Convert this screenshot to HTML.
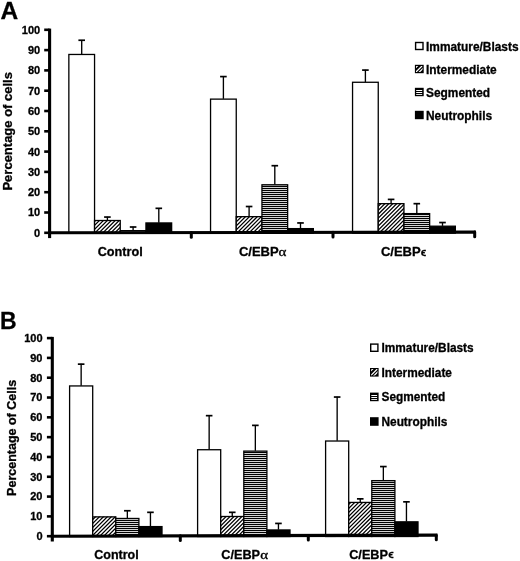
<!DOCTYPE html>
<html><head><meta charset="utf-8"><style>
html,body{margin:0;padding:0;background:#fff;}
svg{display:block;will-change:transform;}
text{font-family:"Liberation Sans", sans-serif;fill:#000;stroke:#000;stroke-width:0.3px;}
</style></head><body>
<svg width="520" height="561" viewBox="0 0 520 561">
<defs>
<pattern id="hatch" patternUnits="userSpaceOnUse" width="2.8" height="2.8" patternTransform="rotate(45)">
<rect width="2.8" height="2.8" fill="#fff"/><rect width="1.35" height="2.8" fill="#000"/></pattern>
<pattern id="hstripe" patternUnits="userSpaceOnUse" width="10" height="2">
<rect width="10" height="2" fill="#d2d2d2"/><rect width="10" height="1" fill="#000"/></pattern>
</defs>
<rect width="520" height="561" fill="#fff"/>
<line x1="81.70" y1="54.16" x2="81.70" y2="39.95" stroke="#000" stroke-width="1.35"/>
<line x1="78.40" y1="40.25" x2="85.00" y2="40.25" stroke="#000" stroke-width="1.7"/>
<rect x="68.85" y="54.46" width="25.70" height="178.64" fill="#fff" stroke="#000" stroke-width="1.3"/>
<line x1="107.40" y1="220.21" x2="107.40" y2="216.76" stroke="#000" stroke-width="1.35"/>
<line x1="104.10" y1="217.06" x2="110.70" y2="217.06" stroke="#000" stroke-width="1.7"/>
<clipPath id="cA0"><rect x="94.55" y="220.21" width="25.70" height="12.59"/></clipPath>
<rect x="94.55" y="220.21" width="25.70" height="12.59" fill="#fff"/>
<path clip-path="url(#cA0)" d="M70.30,237.80L92.89,215.21M74.25,237.80L96.84,215.21M78.20,237.80L100.79,215.21M82.15,237.80L104.74,215.21M86.10,237.80L108.69,215.21M90.05,237.80L112.64,215.21M94.00,237.80L116.59,215.21M97.95,237.80L120.54,215.21M101.90,237.80L124.49,215.21M105.85,237.80L128.44,215.21M109.80,237.80L132.39,215.21M113.75,237.80L136.34,215.21M117.70,237.80L140.29,215.21" stroke="#000" stroke-width="1.25" fill="none"/>
<rect x="94.55" y="220.51" width="25.70" height="12.59" fill="none" stroke="#000" stroke-width="1.3"/>
<line x1="133.10" y1="230.36" x2="133.10" y2="226.71" stroke="#000" stroke-width="1.35"/>
<line x1="129.80" y1="227.01" x2="136.40" y2="227.01" stroke="#000" stroke-width="1.7"/>
<rect x="120.25" y="230.66" width="25.70" height="2.44" fill="url(#hstripe)" stroke="#000" stroke-width="1.3"/>
<line x1="158.80" y1="222.65" x2="158.80" y2="208.03" stroke="#000" stroke-width="1.35"/>
<line x1="155.50" y1="208.33" x2="162.10" y2="208.33" stroke="#000" stroke-width="1.7"/>
<rect x="145.95" y="222.95" width="25.70" height="10.15" fill="#000" stroke="#000" stroke-width="1.3"/>
<line x1="223.40" y1="98.82" x2="223.40" y2="76.29" stroke="#000" stroke-width="1.35"/>
<line x1="220.10" y1="76.59" x2="226.70" y2="76.59" stroke="#000" stroke-width="1.7"/>
<rect x="210.55" y="99.12" width="25.70" height="133.98" fill="#fff" stroke="#000" stroke-width="1.3"/>
<line x1="249.10" y1="216.36" x2="249.10" y2="206.21" stroke="#000" stroke-width="1.35"/>
<line x1="245.80" y1="206.51" x2="252.40" y2="206.51" stroke="#000" stroke-width="1.7"/>
<clipPath id="cA1"><rect x="236.25" y="216.36" width="25.70" height="16.44"/></clipPath>
<rect x="236.25" y="216.36" width="25.70" height="16.44" fill="#fff"/>
<path clip-path="url(#cA1)" d="M208.55,237.80L234.99,211.36M212.50,237.80L238.94,211.36M216.45,237.80L242.89,211.36M220.40,237.80L246.84,211.36M224.35,237.80L250.79,211.36M228.30,237.80L254.74,211.36M232.25,237.80L258.69,211.36M236.20,237.80L262.64,211.36M240.15,237.80L266.59,211.36M244.10,237.80L270.54,211.36M248.05,237.80L274.49,211.36M252.00,237.80L278.44,211.36M255.95,237.80L282.39,211.36M259.90,237.80L286.34,211.36" stroke="#000" stroke-width="1.25" fill="none"/>
<rect x="236.25" y="216.66" width="25.70" height="16.44" fill="none" stroke="#000" stroke-width="1.3"/>
<line x1="274.80" y1="184.49" x2="274.80" y2="165.40" stroke="#000" stroke-width="1.35"/>
<line x1="271.50" y1="165.70" x2="278.10" y2="165.70" stroke="#000" stroke-width="1.7"/>
<rect x="261.95" y="184.79" width="25.70" height="48.31" fill="url(#hstripe)" stroke="#000" stroke-width="1.3"/>
<line x1="300.50" y1="228.33" x2="300.50" y2="222.65" stroke="#000" stroke-width="1.35"/>
<line x1="297.20" y1="222.95" x2="303.80" y2="222.95" stroke="#000" stroke-width="1.7"/>
<rect x="287.65" y="228.63" width="25.70" height="4.47" fill="#000" stroke="#000" stroke-width="1.3"/>
<line x1="365.40" y1="81.97" x2="365.40" y2="69.79" stroke="#000" stroke-width="1.35"/>
<line x1="362.10" y1="70.09" x2="368.70" y2="70.09" stroke="#000" stroke-width="1.7"/>
<rect x="352.55" y="82.27" width="25.70" height="150.83" fill="#fff" stroke="#000" stroke-width="1.3"/>
<line x1="391.10" y1="203.37" x2="391.10" y2="199.10" stroke="#000" stroke-width="1.35"/>
<line x1="387.80" y1="199.40" x2="394.40" y2="199.40" stroke="#000" stroke-width="1.7"/>
<clipPath id="cA2"><rect x="378.25" y="203.37" width="25.70" height="29.44"/></clipPath>
<rect x="378.25" y="203.37" width="25.70" height="29.44" fill="#fff"/>
<path clip-path="url(#cA2)" d="M338.90,237.80L378.34,198.37M342.85,237.80L382.28,198.37M346.80,237.80L386.24,198.37M350.75,237.80L390.19,198.37M354.70,237.80L394.13,198.37M358.65,237.80L398.09,198.37M362.60,237.80L402.03,198.37M366.55,237.80L405.99,198.37M370.50,237.80L409.94,198.37M374.45,237.80L413.88,198.37M378.40,237.80L417.84,198.37M382.35,237.80L421.78,198.37M386.30,237.80L425.74,198.37M390.25,237.80L429.69,198.37M394.20,237.80L433.63,198.37M398.15,237.80L437.59,198.37M402.10,237.80L441.53,198.37" stroke="#000" stroke-width="1.25" fill="none"/>
<rect x="378.25" y="203.67" width="25.70" height="29.44" fill="none" stroke="#000" stroke-width="1.3"/>
<line x1="416.80" y1="213.31" x2="416.80" y2="203.37" stroke="#000" stroke-width="1.35"/>
<line x1="413.50" y1="203.67" x2="420.10" y2="203.67" stroke="#000" stroke-width="1.7"/>
<rect x="403.95" y="213.61" width="25.70" height="19.49" fill="url(#hstripe)" stroke="#000" stroke-width="1.3"/>
<line x1="442.50" y1="225.90" x2="442.50" y2="222.24" stroke="#000" stroke-width="1.35"/>
<line x1="439.20" y1="222.54" x2="445.80" y2="222.54" stroke="#000" stroke-width="1.7"/>
<rect x="429.65" y="226.20" width="25.70" height="6.90" fill="#000" stroke="#000" stroke-width="1.3"/>
<line x1="49.60" y1="28.60" x2="49.60" y2="238.10" stroke="#000" stroke-width="3.1"/>
<line x1="48.10" y1="232.80" x2="475.90" y2="232.08" stroke="#000" stroke-width="3.1"/>
<line x1="191.30" y1="232.56" x2="191.30" y2="237.16" stroke="#000" stroke-width="3" stroke-linecap="round"/>
<line x1="333.00" y1="232.32" x2="333.00" y2="236.92" stroke="#000" stroke-width="3" stroke-linecap="round"/>
<line x1="474.70" y1="232.08" x2="474.70" y2="236.68" stroke="#000" stroke-width="3" stroke-linecap="round"/>
<line x1="44.20" y1="232.80" x2="49.60" y2="232.80" stroke="#000" stroke-width="2.6"/>
<text x="40.20" y="236.70" text-anchor="end" font-size="11" font-weight="bold">0</text>
<line x1="44.20" y1="212.50" x2="49.60" y2="212.50" stroke="#000" stroke-width="2.6"/>
<text x="40.20" y="216.40" text-anchor="end" font-size="11" font-weight="bold">10</text>
<line x1="44.20" y1="192.20" x2="49.60" y2="192.20" stroke="#000" stroke-width="2.6"/>
<text x="40.20" y="196.10" text-anchor="end" font-size="11" font-weight="bold">20</text>
<line x1="44.20" y1="171.90" x2="49.60" y2="171.90" stroke="#000" stroke-width="2.6"/>
<text x="40.20" y="175.80" text-anchor="end" font-size="11" font-weight="bold">30</text>
<line x1="44.20" y1="151.60" x2="49.60" y2="151.60" stroke="#000" stroke-width="2.6"/>
<text x="40.20" y="155.50" text-anchor="end" font-size="11" font-weight="bold">40</text>
<line x1="44.20" y1="131.30" x2="49.60" y2="131.30" stroke="#000" stroke-width="2.6"/>
<text x="40.20" y="135.20" text-anchor="end" font-size="11" font-weight="bold">50</text>
<line x1="44.20" y1="111.00" x2="49.60" y2="111.00" stroke="#000" stroke-width="2.6"/>
<text x="40.20" y="114.90" text-anchor="end" font-size="11" font-weight="bold">60</text>
<line x1="44.20" y1="90.70" x2="49.60" y2="90.70" stroke="#000" stroke-width="2.6"/>
<text x="40.20" y="94.60" text-anchor="end" font-size="11" font-weight="bold">70</text>
<line x1="44.20" y1="70.40" x2="49.60" y2="70.40" stroke="#000" stroke-width="2.6"/>
<text x="40.20" y="74.30" text-anchor="end" font-size="11" font-weight="bold">80</text>
<line x1="44.20" y1="50.10" x2="49.60" y2="50.10" stroke="#000" stroke-width="2.6"/>
<text x="40.20" y="54.00" text-anchor="end" font-size="11" font-weight="bold">90</text>
<line x1="44.20" y1="29.80" x2="49.60" y2="29.80" stroke="#000" stroke-width="2.6"/>
<text x="40.20" y="33.70" text-anchor="end" font-size="11" font-weight="bold">100</text>
<text x="120.25" y="256.20" text-anchor="middle" font-size="12.7" font-weight="bold">Control</text>
<text x="238.90" y="256.20" font-size="13.0" font-weight="bold">C/EBP</text>
<text transform="translate(278.50,256.20) scale(1.2,1)" font-family="Liberation Serif" font-size="12.5" font-weight="normal" style="font-family:Liberation Serif">&#945;</text>
<text x="380.90" y="256.20" font-size="13.0" font-weight="bold">C/EBP</text>
<text transform="translate(420.80,256.00) scale(1.0,1)" font-family="Liberation Sans" font-size="11.4" font-weight="bold" style="font-family:Liberation Sans">&#1013;</text>
<text transform="translate(11.50,131.30) rotate(-90)" text-anchor="middle" font-size="13" font-weight="bold">Percentage of cells</text>
<text transform="translate(0.60,19.00) scale(1.0,1)" font-size="24.5" font-weight="bold">A</text>
<rect x="415.60" y="42.50" width="7.40" height="7.00" fill="#fff" stroke="#000" stroke-width="1.4"/>
<text x="426.00" y="50.50" font-size="11.9" font-weight="bold">Immature/Blasts</text>
<rect x="414.90" y="64.80" width="8.80" height="8.40" fill="#000"/>
<clipPath id="lgA"><rect x="416.00" y="65.90" width="6.60" height="6.20"/></clipPath>
<path clip-path="url(#lgA)" d="M406.60,76.80L420.60,62.80M411.20,76.80L425.20,62.80M414.60,76.80L428.60,62.80" stroke="#fff" stroke-width="1.25" fill="none"/>
<text x="426.00" y="73.50" font-size="11.9" font-weight="bold">Intermediate</text>
<rect x="414.90" y="87.80" width="8.80" height="8.40" fill="#000"/>
<line x1="416.20" y1="90.50" x2="422.20" y2="90.50" stroke="#fff" stroke-width="1.0"/>
<line x1="416.20" y1="92.50" x2="422.20" y2="92.50" stroke="#fff" stroke-width="1.0"/>
<line x1="416.20" y1="94.50" x2="422.20" y2="94.50" stroke="#ddd" stroke-width="1.0"/>
<text x="426.00" y="96.50" font-size="11.9" font-weight="bold">Segmented</text>
<rect x="414.90" y="110.80" width="8.80" height="8.40" fill="#000"/>
<text x="426.00" y="119.50" font-size="11.9" font-weight="bold">Neutrophils</text>
<line x1="81.15" y1="385.64" x2="81.15" y2="363.85" stroke="#000" stroke-width="1.35"/>
<line x1="77.85" y1="364.15" x2="84.45" y2="364.15" stroke="#000" stroke-width="1.7"/>
<rect x="69.60" y="385.94" width="23.10" height="150.56" fill="#fff" stroke="#000" stroke-width="1.3"/>
<clipPath id="cB0"><rect x="92.70" y="516.59" width="23.10" height="19.61"/></clipPath>
<rect x="92.70" y="516.59" width="23.10" height="19.61" fill="#fff"/>
<path clip-path="url(#cB0)" d="M63.15,541.20L92.76,511.59M67.10,541.20L96.71,511.59M71.05,541.20L100.66,511.59M75.00,541.20L104.61,511.59M78.95,541.20L108.56,511.59M82.90,541.20L112.51,511.59M86.85,541.20L116.46,511.59M90.80,541.20L120.41,511.59M94.75,541.20L124.36,511.59M98.70,541.20L128.31,511.59M102.65,541.20L132.26,511.59M106.60,541.20L136.21,511.59M110.55,541.20L140.16,511.59M114.50,541.20L144.11,511.59" stroke="#000" stroke-width="1.25" fill="none"/>
<rect x="92.70" y="516.89" width="23.10" height="19.61" fill="none" stroke="#000" stroke-width="1.3"/>
<line x1="127.35" y1="518.17" x2="127.35" y2="510.45" stroke="#000" stroke-width="1.35"/>
<line x1="124.05" y1="510.75" x2="130.65" y2="510.75" stroke="#000" stroke-width="1.7"/>
<rect x="115.80" y="518.47" width="23.10" height="18.03" fill="url(#hstripe)" stroke="#000" stroke-width="1.3"/>
<line x1="150.45" y1="526.30" x2="150.45" y2="512.03" stroke="#000" stroke-width="1.35"/>
<line x1="147.15" y1="512.33" x2="153.75" y2="512.33" stroke="#000" stroke-width="1.7"/>
<rect x="138.90" y="526.60" width="23.10" height="9.90" fill="#000" stroke="#000" stroke-width="1.3"/>
<line x1="209.15" y1="449.43" x2="209.15" y2="415.36" stroke="#000" stroke-width="1.35"/>
<line x1="205.85" y1="415.66" x2="212.45" y2="415.66" stroke="#000" stroke-width="1.7"/>
<rect x="197.60" y="449.73" width="23.10" height="86.77" fill="#fff" stroke="#000" stroke-width="1.3"/>
<line x1="232.25" y1="516.19" x2="232.25" y2="512.03" stroke="#000" stroke-width="1.35"/>
<line x1="228.95" y1="512.33" x2="235.55" y2="512.33" stroke="#000" stroke-width="1.7"/>
<clipPath id="cB1"><rect x="220.70" y="516.19" width="23.10" height="20.01"/></clipPath>
<rect x="220.70" y="516.19" width="23.10" height="20.01" fill="#fff"/>
<path clip-path="url(#cB1)" d="M189.55,541.20L219.56,511.19M193.50,541.20L223.51,511.19M197.45,541.20L227.46,511.19M201.40,541.20L231.41,511.19M205.35,541.20L235.36,511.19M209.30,541.20L239.31,511.19M213.25,541.20L243.26,511.19M217.20,541.20L247.21,511.19M221.15,541.20L251.16,511.19M225.10,541.20L255.11,511.19M229.05,541.20L259.06,511.19M233.00,541.20L263.01,511.19M236.95,541.20L266.96,511.19M240.90,541.20L270.91,511.19" stroke="#000" stroke-width="1.25" fill="none"/>
<rect x="220.70" y="516.49" width="23.10" height="20.01" fill="none" stroke="#000" stroke-width="1.3"/>
<line x1="255.35" y1="450.82" x2="255.35" y2="425.07" stroke="#000" stroke-width="1.35"/>
<line x1="252.05" y1="425.37" x2="258.65" y2="425.37" stroke="#000" stroke-width="1.7"/>
<rect x="243.80" y="451.12" width="23.10" height="85.38" fill="url(#hstripe)" stroke="#000" stroke-width="1.3"/>
<line x1="278.45" y1="529.66" x2="278.45" y2="523.13" stroke="#000" stroke-width="1.35"/>
<line x1="275.15" y1="523.43" x2="281.75" y2="523.43" stroke="#000" stroke-width="1.7"/>
<rect x="266.90" y="529.96" width="23.10" height="6.54" fill="#000" stroke="#000" stroke-width="1.3"/>
<line x1="337.15" y1="440.72" x2="337.15" y2="396.74" stroke="#000" stroke-width="1.35"/>
<line x1="333.85" y1="397.04" x2="340.45" y2="397.04" stroke="#000" stroke-width="1.7"/>
<rect x="325.60" y="441.02" width="23.10" height="95.48" fill="#fff" stroke="#000" stroke-width="1.3"/>
<line x1="360.25" y1="502.13" x2="360.25" y2="498.56" stroke="#000" stroke-width="1.35"/>
<line x1="356.95" y1="498.86" x2="363.55" y2="498.86" stroke="#000" stroke-width="1.7"/>
<clipPath id="cB2"><rect x="348.70" y="502.13" width="23.10" height="34.07"/></clipPath>
<rect x="348.70" y="502.13" width="23.10" height="34.07" fill="#fff"/>
<path clip-path="url(#cB2)" d="M304.10,541.20L348.17,497.13M308.05,541.20L352.12,497.13M312.00,541.20L356.07,497.13M315.95,541.20L360.02,497.13M319.90,541.20L363.97,497.13M323.85,541.20L367.92,497.13M327.80,541.20L371.87,497.13M331.75,541.20L375.82,497.13M335.70,541.20L379.77,497.13M339.65,541.20L383.72,497.13M343.60,541.20L387.67,497.13M347.55,541.20L391.62,497.13M351.50,541.20L395.57,497.13M355.45,541.20L399.52,497.13M359.40,541.20L403.47,497.13M363.35,541.20L407.42,497.13M367.30,541.20L411.37,497.13" stroke="#000" stroke-width="1.25" fill="none"/>
<rect x="348.70" y="502.43" width="23.10" height="34.07" fill="none" stroke="#000" stroke-width="1.3"/>
<line x1="383.35" y1="480.34" x2="383.35" y2="466.27" stroke="#000" stroke-width="1.35"/>
<line x1="380.05" y1="466.57" x2="386.65" y2="466.57" stroke="#000" stroke-width="1.7"/>
<rect x="371.80" y="480.64" width="23.10" height="55.86" fill="url(#hstripe)" stroke="#000" stroke-width="1.3"/>
<line x1="406.45" y1="521.54" x2="406.45" y2="501.53" stroke="#000" stroke-width="1.35"/>
<line x1="403.15" y1="501.83" x2="409.75" y2="501.83" stroke="#000" stroke-width="1.7"/>
<rect x="394.90" y="521.84" width="23.10" height="14.66" fill="#000" stroke="#000" stroke-width="1.3"/>
<line x1="52.30" y1="336.90" x2="52.30" y2="541.50" stroke="#000" stroke-width="3.1"/>
<line x1="50.80" y1="536.20" x2="437.50" y2="535.16" stroke="#000" stroke-width="3.1"/>
<line x1="180.30" y1="535.85" x2="180.30" y2="540.45" stroke="#000" stroke-width="3" stroke-linecap="round"/>
<line x1="308.30" y1="535.51" x2="308.30" y2="540.11" stroke="#000" stroke-width="3" stroke-linecap="round"/>
<line x1="436.30" y1="535.16" x2="436.30" y2="539.76" stroke="#000" stroke-width="3" stroke-linecap="round"/>
<line x1="46.90" y1="536.20" x2="52.30" y2="536.20" stroke="#000" stroke-width="2.6"/>
<text x="42.50" y="540.10" text-anchor="end" font-size="11" font-weight="bold">0</text>
<line x1="46.90" y1="516.39" x2="52.30" y2="516.39" stroke="#000" stroke-width="2.6"/>
<text x="42.50" y="520.29" text-anchor="end" font-size="11" font-weight="bold">10</text>
<line x1="46.90" y1="496.58" x2="52.30" y2="496.58" stroke="#000" stroke-width="2.6"/>
<text x="42.50" y="500.48" text-anchor="end" font-size="11" font-weight="bold">20</text>
<line x1="46.90" y1="476.77" x2="52.30" y2="476.77" stroke="#000" stroke-width="2.6"/>
<text x="42.50" y="480.67" text-anchor="end" font-size="11" font-weight="bold">30</text>
<line x1="46.90" y1="456.96" x2="52.30" y2="456.96" stroke="#000" stroke-width="2.6"/>
<text x="42.50" y="460.86" text-anchor="end" font-size="11" font-weight="bold">40</text>
<line x1="46.90" y1="437.15" x2="52.30" y2="437.15" stroke="#000" stroke-width="2.6"/>
<text x="42.50" y="441.05" text-anchor="end" font-size="11" font-weight="bold">50</text>
<line x1="46.90" y1="417.34" x2="52.30" y2="417.34" stroke="#000" stroke-width="2.6"/>
<text x="42.50" y="421.24" text-anchor="end" font-size="11" font-weight="bold">60</text>
<line x1="46.90" y1="397.53" x2="52.30" y2="397.53" stroke="#000" stroke-width="2.6"/>
<text x="42.50" y="401.43" text-anchor="end" font-size="11" font-weight="bold">70</text>
<line x1="46.90" y1="377.72" x2="52.30" y2="377.72" stroke="#000" stroke-width="2.6"/>
<text x="42.50" y="381.62" text-anchor="end" font-size="11" font-weight="bold">80</text>
<line x1="46.90" y1="357.91" x2="52.30" y2="357.91" stroke="#000" stroke-width="2.6"/>
<text x="42.50" y="361.81" text-anchor="end" font-size="11" font-weight="bold">90</text>
<line x1="46.90" y1="338.10" x2="52.30" y2="338.10" stroke="#000" stroke-width="2.6"/>
<text x="42.50" y="342.00" text-anchor="end" font-size="11" font-weight="bold">100</text>
<text x="116.50" y="558.70" text-anchor="middle" font-size="12.5" font-weight="bold">Control</text>
<text x="221.30" y="558.70" font-size="12.7" font-weight="bold">C/EBP</text>
<text transform="translate(260.30,558.70) scale(1.2,1)" font-family="Liberation Serif" font-size="12.5" font-weight="normal" style="font-family:Liberation Serif">&#945;</text>
<text x="349.20" y="558.70" font-size="12.7" font-weight="bold">C/EBP</text>
<text transform="translate(388.30,558.00) scale(1.0,1)" font-family="Liberation Sans" font-size="11.4" font-weight="bold" style="font-family:Liberation Sans">&#1013;</text>
<text transform="translate(16.00,437.90) rotate(-90)" text-anchor="middle" font-size="12.5" font-weight="bold">Percentage of Cells</text>
<text transform="translate(0.10,329.40) scale(0.94,1)" font-size="24.5" font-weight="bold">B</text>
<rect x="370.70" y="344.10" width="7.20" height="7.20" fill="#fff" stroke="#000" stroke-width="1.4"/>
<text x="381.50" y="352.00" font-size="11.85" font-weight="bold">Immature/Blasts</text>
<rect x="370.00" y="368.00" width="8.60" height="8.60" fill="#000"/>
<clipPath id="lgB"><rect x="371.10" y="369.10" width="6.40" height="6.40"/></clipPath>
<path clip-path="url(#lgB)" d="M361.70,380.00L375.70,366.00M366.30,380.00L380.30,366.00M369.70,380.00L383.70,366.00" stroke="#fff" stroke-width="1.25" fill="none"/>
<text x="381.50" y="376.60" font-size="11.85" font-weight="bold">Intermediate</text>
<rect x="370.00" y="392.60" width="8.60" height="8.60" fill="#000"/>
<line x1="371.30" y1="395.50" x2="377.10" y2="395.50" stroke="#fff" stroke-width="1.0"/>
<line x1="371.30" y1="397.50" x2="377.10" y2="397.50" stroke="#fff" stroke-width="1.0"/>
<line x1="371.30" y1="399.50" x2="377.10" y2="399.50" stroke="#ddd" stroke-width="1.0"/>
<text x="381.50" y="401.20" font-size="11.85" font-weight="bold">Segmented</text>
<rect x="370.00" y="417.20" width="8.60" height="8.60" fill="#000"/>
<text x="381.50" y="425.80" font-size="11.85" font-weight="bold">Neutrophils</text>
</svg>
</body></html>
